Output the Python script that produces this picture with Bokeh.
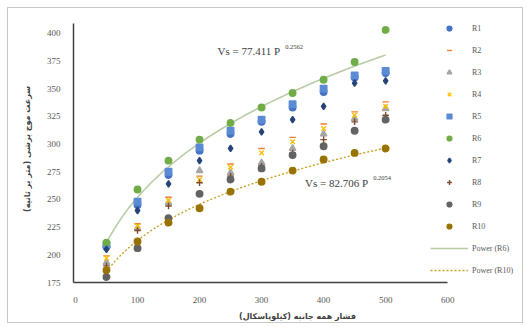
import numpy as np
from bokeh.plotting import figure
from bokeh.models import Range1d, Legend, LegendItem, FixedTicker
from bokeh.core.properties import value
from bokeh.embed import file_html
from bokeh.resources import INLINE

# ---- data ----
pressure = [50, 100, 150, 200, 250, 300, 350, 400, 450, 500]
R1 = [207, 245, 272, 294, 309, 320, 333, 347, 360, 364]
R2 = [199, 228, 252, 271, 282, 296, 306, 318, 329, 338]
R3 = [193, 224, 247, 276, 274, 283, 296, 309, 323, 332]
R4 = [197, 226, 249, 268, 279, 292, 302, 314, 326, 334]
R5 = [209, 248, 275, 297, 312, 322, 336, 350, 362, 366]
R6 = [211, 259, 285, 304, 319, 333, 346, 358, 374, 403]
R7 = [205, 240, 264, 285, 296, 311, 322, 334, 355, 357]
R8 = [190, 222, 244, 265, 271, 280, 292, 304, 320, 326]
R9 = [180, 206, 233, 255, 268, 278, 290, 298, 312, 322]
R10 = [186, 212, 229, 242, 257, 266, 276, 286, 292, 296]

series_names = ["R1", "R2", "R3", "R4", "R5", "R6", "R7", "R8", "R9", "R10"]
series_values = [R1, R2, R3, R4, R5, R6, R7, R8, R9, R10]

# trend equations shown on the chart: Vs = a * P^b
trend_R6 = (77.411, 0.2562)
trend_R10 = (82.706, 0.2054)
eq_R6_text = ("Vs = 77.411 P", "0.2562")
eq_R10_text = ("Vs = 82.706 P", "0.2054")

x_ticks = [0, 100, 200, 300, 400, 500, 600]
y_ticks = [175, 200, 225, 250, 275, 300, 325, 350, 375, 400]

x_title = "فشار همه جانبه (کیلوپاسکال)"
y_title = "سرعت موج برشی (متر بر ثانیه)"

# ---- styles ----
styles = {
    "R1": dict(marker="circle", color="#4472C4"),
    "R2": dict(marker="dash", color="#ED7D31"),
    "R3": dict(marker="triangle", color="#A5A5A5"),
    "R4": dict(marker="x", color="#FFC000"),
    "R5": dict(marker="square", color="#5B8BD5"),
    "R6": dict(marker="circle", color="#70AD47"),
    "R7": dict(marker="diamond", color="#264478"),
    "R8": dict(marker="cross", color="#7F4A2A"),
    "R9": dict(marker="circle", color="#636363"),
    "R10": dict(marker="circle", color="#997300"),
}

SERIF = "Liberation Serif"

p = figure(width=523, height=323, output_backend="svg", toolbar_location=None,
           x_range=Range1d(-3.2, 719), y_range=Range1d(175, 416),
           min_border_left=73, min_border_right=2, min_border_top=15, min_border_bottom=40)
p.stylesheets = [":host::before { content: ''; position: absolute; left: 7px; top: 7px; "
                 "right: 0px; bottom: 0px; border: 1px solid #C8C8C8; "
                 "pointer-events: none; z-index: 10; }"]
p.outline_line_color = None
p.xgrid.grid_line_color = None
p.ygrid.grid_line_color = None

for ax in (p.xaxis[0], p.yaxis[0]):
    ax.axis_line_color = "#404040"
    ax.axis_line_width = 1.5
    ax.major_tick_line_color = None
    ax.minor_tick_line_color = None
    ax.major_label_text_font = SERIF
    ax.major_label_text_font_size = "9px"
    ax.major_label_text_color = "#595959"
    ax.axis_label_text_font = "DejaVu Sans"
    ax.axis_label_text_font_size = "8px"
    ax.axis_label_text_font_style = "bold"
    ax.axis_label_text_color = "#404040"

p.xaxis.bounds = (-3.2, 600)
p.yaxis.bounds = (175, 409)
p.xaxis.ticker = FixedTicker(ticks=x_ticks)
p.yaxis.ticker = FixedTicker(ticks=y_ticks)
p.xaxis.major_label_standoff = 8
p.yaxis.major_label_standoff = 7
p.xaxis.axis_label = x_title
p.yaxis.axis_label = y_title
p.xaxis.axis_label_standoff = 6
p.yaxis.axis_label_standoff = 12

# trend lines
xt = np.linspace(pressure[0], pressure[-1], 100)
yt6 = trend_R6[0] * xt ** trend_R6[1]
yt10 = trend_R10[0] * xt ** trend_R10[1]
l6 = p.line(xt, yt6, line_color="#B9CCA6", line_width=1.6)
l10 = p.line(xt, yt10, line_color="#C9A227", line_width=1.4, line_dash="2 2")

items = []
for name, vals in zip(series_names, series_values):
    st = styles[name]
    r = p.scatter(pressure, vals, marker=st["marker"], size=6.5,
                  fill_color=st["color"], line_color=st["color"], line_width=1.4)
    items.append(LegendItem(label=name, renderers=[r]))
items.append(LegendItem(label="Power (R6)", renderers=[l6]))
items.append(LegendItem(label="Power (R10)", renderers=[l10]))

legend = Legend(items=items, location=(357, 2), orientation="vertical",
                glyph_width=38, glyph_height=12, label_height=20, spacing=2,
                label_standoff=4, padding=0, margin=0,
                label_text_font=SERIF, label_text_font_size="8px",
                label_text_color="#595959",
                background_fill_alpha=0, border_line_color=None)
p.add_layout(legend, "center")

# equation labels
p.text(x=[229], y=[384], text=[eq_R6_text[0]], text_font=value(SERIF),
       text_font_size="11px", text_color="#404040", text_baseline="middle")
p.text(x=[338], y=[388], text=[eq_R6_text[1]], text_font=value(SERIF),
       text_font_size="6.5px", text_color="#404040", text_baseline="middle")
p.text(x=[370], y=[265], text=[eq_R10_text[0]], text_font=value(SERIF),
       text_font_size="11px", text_color="#404040", text_baseline="middle")
p.text(x=[480], y=[269], text=[eq_R10_text[1]], text_font=value(SERIF),
       text_font_size="6.5px", text_color="#404040", text_baseline="middle")

open("out.html", "w").write(file_html(p, INLINE))
